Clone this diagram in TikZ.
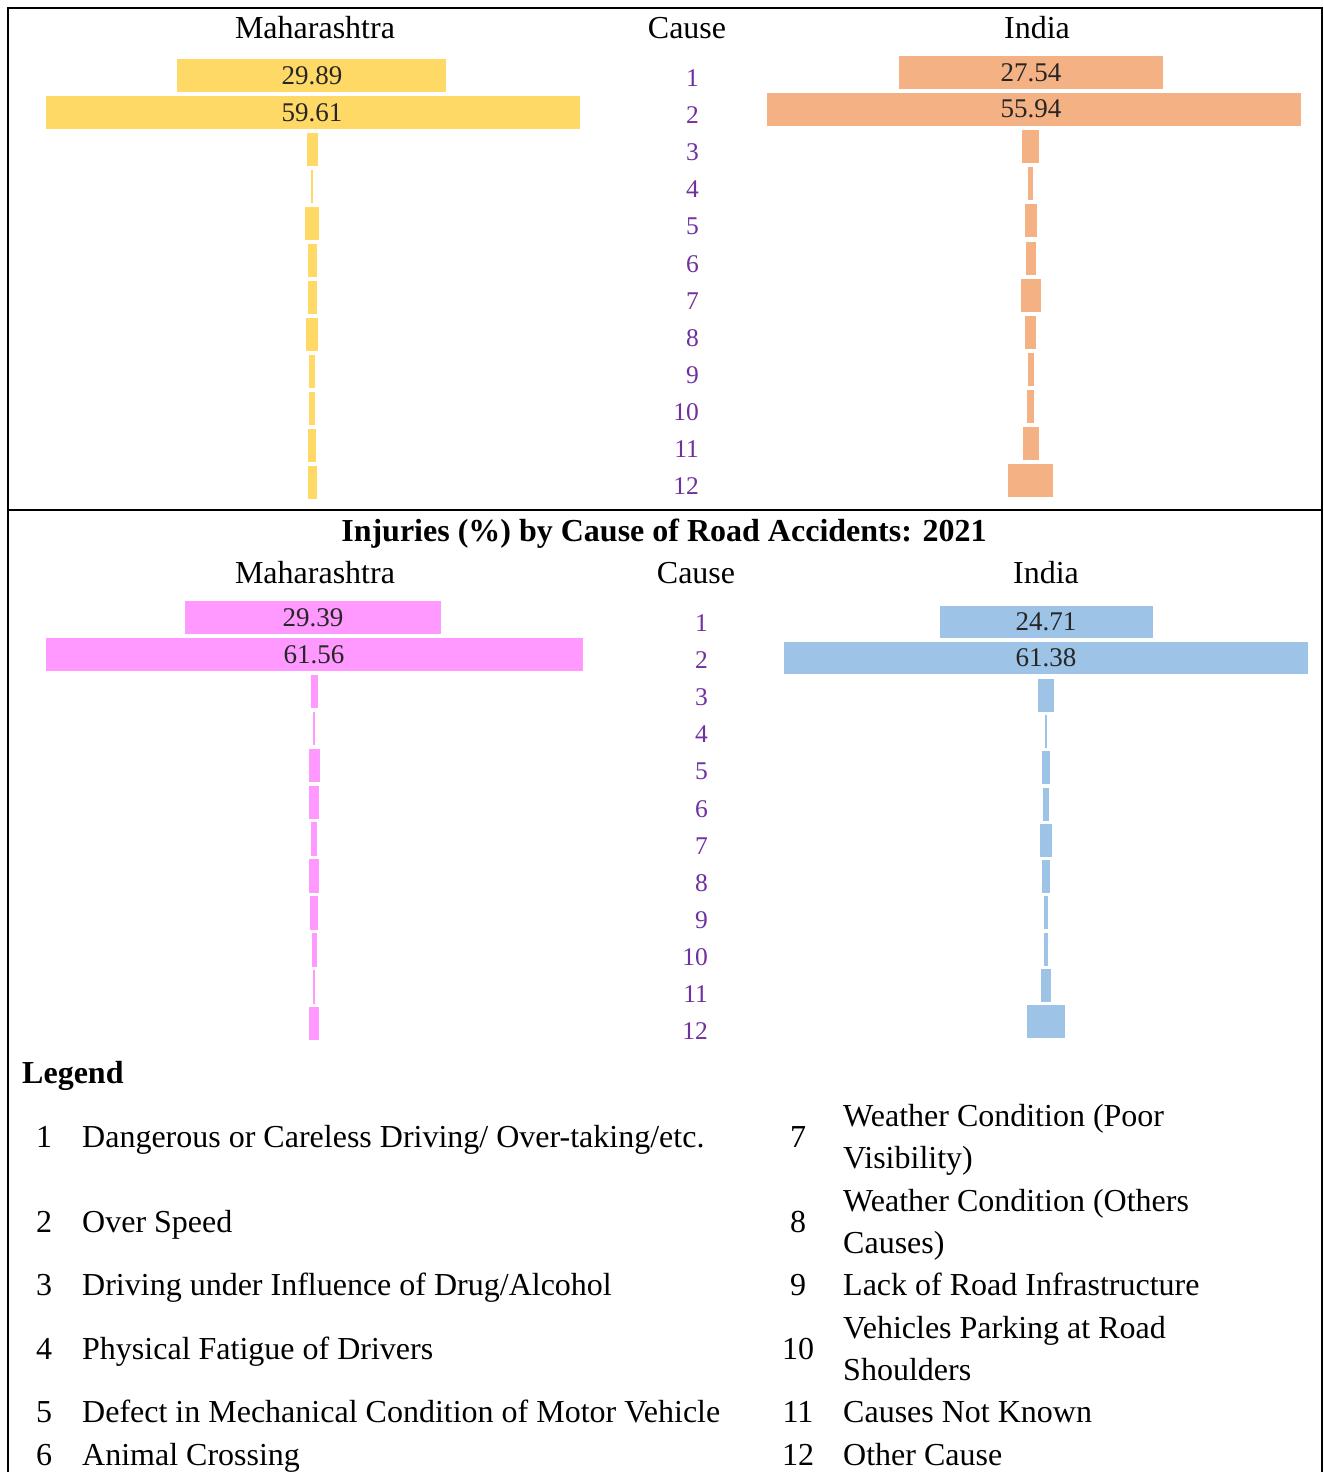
\documentclass[tikz,border=0pt]{standalone}
\usepackage{fontspec}
\setmainfont{Liberation Serif}
\definecolor{cyel}{HTML}{FFD966}
\definecolor{corg}{HTML}{F4B183}
\definecolor{cpnk}{HTML}{FF99FF}
\definecolor{cblu}{HTML}{9DC3E6}
\definecolor{cpur}{HTML}{7030A0}
\begin{document}
\begin{tikzpicture}[x=1pt,y=-1pt,
  hdr/.style={anchor=base,inner sep=0pt,font=\fontsize{32}{38}\selectfont},
  ttl/.style={anchor=base,inner sep=0pt,font=\fontsize{32}{38}\selectfont\bfseries},
  val/.style={anchor=center,inner sep=0pt,text=black!85,font=\fontsize{27}{32}\selectfont},
  cnum/.style={anchor=base east,inner sep=0pt,text=cpur,font=\fontsize{25.5}{30}\selectfont},
  lnum/.style={anchor=base,inner sep=0pt,font=\fontsize{32}{38}\selectfont},
  ltxt/.style={anchor=base west,inner sep=0pt,font=\fontsize{32}{38}\selectfont},
  frame/.style={line width=2.2pt}]
\useasboundingbox (0,0) rectangle (1323,1472);
\fill[white] (0,0) rectangle (1323,1472);
% frame
\draw[frame] (8,1472) -- (8,8) -- (1322,8) -- (1322,1472);
\draw[frame] (8,510) -- (1322,510);

% ---------- top panel ----------
\node[hdr] (tMh) at (315,39) {Maharashtra};
\node[hdr] (tCs) at (687,39) {Cause};
\node[hdr] (tIn) at (1037,39) {India};
\foreach \i in {1,...,12}
  \node[cnum] (tc\i) at (699,{86.5+(\i-1)*37.1}) {\i};
% Maharashtra top bars
\fill[cyel] (177,59) rectangle (446,92);
\fill[cyel] (46,96) rectangle (580,129);
\foreach \i/\w in {3/11,4/1.5,5/14,6/9,7/9,8/11.5,9/5.5,10/5.5,11/7.5,12/9}
  \fill[cyel] ({312-\w/2},{59+(\i-1)*37}) rectangle ++(\w,33);
\node[val] (tM1) at (312,75.5) {29.89};
\node[val] (tM2) at (312,112.5) {59.61};
% India top bars
\fill[corg] (898.5,56) rectangle (1163,89);
\fill[corg] (767,92.5) rectangle (1300.5,125.5);
\foreach \i/\w in {3/17,4/5,5/12,6/10,7/20,8/11,9/6,10/7,11/16,12/45}
  \fill[corg] ({1030.5-\w/2},{56+(\i-1)*37.1}) rectangle ++(\w,33);
\node[val] (tI1) at (1031,72.5) {27.54};
\node[val] (tI2) at (1031,109) {55.94};

% ---------- bottom panel ----------
\node[ttl] (ttitle) at (664,541) {Injuries (\%) by Cause of Road Accidents: 2021};
\node[hdr] (bMh) at (315,583) {Maharashtra};
\node[hdr] (bCs) at (696,583) {Cause};
\node[hdr] (bIn) at (1046,583) {India};
\foreach \i in {1,...,12}
  \node[cnum] (bc\i) at (708,{631.5+(\i-1)*37.1}) {\i};
% Maharashtra bottom bars
\fill[cpnk] (185,601) rectangle (441,634);
\fill[cpnk] (46,637.5) rectangle (582.5,671);
\foreach \i/\w in {3/7,4/1.5,5/11,6/10.5,7/6,8/9.7,9/8.4,10/5,11/1.7,12/9.7}
  \fill[cpnk] ({314-\w/2},{601+(\i-1)*36.9}) rectangle ++(\w,33.5);
\node[val] (bM1) at (313,617.5) {29.39};
\node[val] (bM2) at (314,654.5) {61.56};
% India bottom bars
\fill[cblu] (940,606) rectangle (1152.5,638);
\fill[cblu] (784,642) rectangle (1308,674);
\foreach \i/\w in {3/16,4/2,5/8,6/5.5,7/12.7,8/7.6,9/3.4,10/4.2,11/9.7,12/38.5}
  \fill[cblu] ({1046-\w/2},{606+(\i-1)*36.3}) rectangle ++(\w,33);
\node[val] (bI1) at (1046,622) {24.71};
\node[val] (bI2) at (1046,658) {61.38};

% ---------- legend ----------
\node[ttl,anchor=base west] (lg) at (22,1083) {Legend};
\node[lnum] (n1) at (44,1147) {1};
\node[ltxt] (t1) at (82,1147) {Dangerous or Careless Driving/ Over-taking/etc.};
\node[lnum] (n2) at (44,1232) {2};
\node[ltxt] (t2) at (82,1232) {Over Speed};
\node[lnum] (n3) at (44,1295) {3};
\node[ltxt] (t3) at (82,1295) {Driving under Influence of Drug/Alcohol};
\node[lnum] (n4) at (44,1359) {4};
\node[ltxt] (t4) at (82,1359) {Physical Fatigue of Drivers};
\node[lnum] (n5) at (44,1422) {5};
\node[ltxt] (t5) at (82,1422) {Defect in Mechanical Condition of Motor Vehicle};
\node[lnum] (n6) at (44,1465) {6};
\node[ltxt] (t6) at (82,1465) {Animal Crossing};

\node[lnum] (n7) at (798,1147) {7};
\node[ltxt] (t7a) at (843,1126) {Weather Condition (Poor};
\node[ltxt] (t7b) at (843,1168) {Visibility)};
\node[lnum] (n8) at (798,1232) {8};
\node[ltxt] (t8a) at (843,1211) {Weather Condition (Others};
\node[ltxt] (t8b) at (843,1253) {Causes)};
\node[lnum] (n9) at (798,1295) {9};
\node[ltxt] (t9) at (843,1295) {Lack of Road Infrastructure};
\node[lnum] (n10) at (798,1359) {10};
\node[ltxt] (t10a) at (843,1338) {Vehicles Parking at Road};
\node[ltxt] (t10b) at (843,1380) {Shoulders};
\node[lnum] (n11) at (798,1422) {11};
\node[ltxt] (t11) at (843,1422) {Causes Not Known};
\node[lnum] (n12) at (798,1465) {12};
\node[ltxt] (t12) at (843,1465) {Other Cause};
\end{tikzpicture}
\end{document}
